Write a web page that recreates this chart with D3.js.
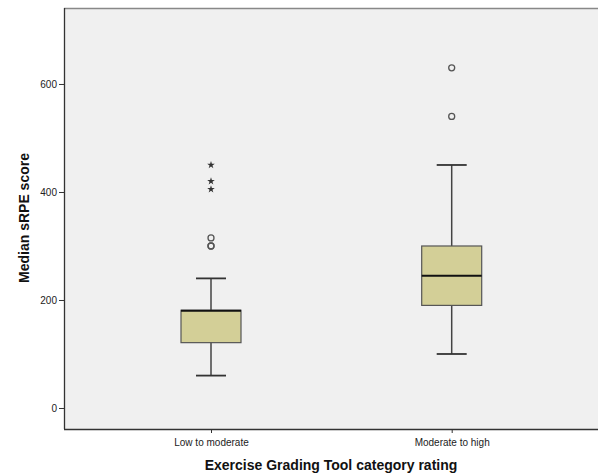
<!DOCTYPE html>
<html><head><meta charset="utf-8">
<script src="https://cdn.jsdelivr.net/npm/d3@7"></script>
<style>body{margin:0;background:#fff}svg{display:block}</style>
</head><body><svg id="c" width="598" height="475"></svg>
<script>
const categories = ["Low to moderate", "Moderate to high"];
const q1 = [121, 190];
const median = [180, 245];
const q3 = [181, 300];
const whiskerLow = [60, 100];
const whiskerHigh = [240, 450];
const outliers = [[300, 300, 315], [540, 630]];
const extremes = [[405, 420, 450], []];
const yTicks = [0, 200, 400, 600];

const svg = d3.select("#c");
const pL = 64, pR = 598, pT = 8, pB = 429;
const y = d3.scaleLinear().domain([-38.9, 740.7]).range([pB, pT]);
const x = d3.scalePoint().domain(categories).range([211, 451.7]);
const font = "Arial, Liberation Sans, sans-serif";

svg.append("rect").attr("x", pL).attr("y", pT).attr("width", pR - pL).attr("height", pB - pT)
  .attr("fill", "#f0f0f0");
svg.append("line").attr("x1", pL).attr("x2", pR).attr("y1", pT + 0.5).attr("y2", pT + 0.5).attr("stroke", "#888").attr("stroke-width", 1.5);

const yAxis = svg.append("g").attr("transform", `translate(${pL},0)`)
  .call(d3.axisLeft(y).tickValues(yTicks).tickSize(5).tickPadding(2));
yAxis.select(".domain").attr("d", `M0.5,${pT}V${pB}`).attr("stroke", "#333").attr("stroke-width", 1.3);
yAxis.selectAll("text").attr("font-family", font).attr("font-size", 10).attr("fill", "#222");
yAxis.selectAll(".tick line").attr("stroke", "#333");

const xAxis = svg.append("g").attr("transform", `translate(0,${pB})`)
  .call(d3.axisBottom(x).tickSize(4).tickPadding(6));
xAxis.select(".domain").attr("d", `M${pL},0.5H${pR}`).attr("stroke", "#333").attr("stroke-width", 1.5);
xAxis.selectAll("text").attr("font-family", font).attr("font-size", 10).attr("fill", "#222");
xAxis.selectAll(".tick line").attr("stroke", "#333");

const bw = 60, cw = 30;
categories.forEach((c, i) => {
  const cx = x(c);
  const g = svg.append("g");
  g.append("line").attr("x1", cx).attr("x2", cx).attr("y1", y(whiskerLow[i])).attr("y2", y(whiskerHigh[i]))
    .attr("stroke", "#444").attr("stroke-width", 1.5);
  [whiskerLow[i], whiskerHigh[i]].forEach(v => {
    g.append("line").attr("x1", cx - cw / 2).attr("x2", cx + cw / 2).attr("y1", y(v)).attr("y2", y(v))
      .attr("stroke", "#333").attr("stroke-width", 1.8);
  });
  g.append("rect").attr("x", cx - bw / 2).attr("y", y(q3[i])).attr("width", bw).attr("height", y(q1[i]) - y(q3[i]))
    .attr("fill", "#d3cf97").attr("stroke", "#555").attr("stroke-width", 1.2);
  g.append("line").attr("x1", cx - bw / 2).attr("x2", cx + bw / 2).attr("y1", y(median[i])).attr("y2", y(median[i]))
    .attr("stroke", "#111").attr("stroke-width", 2);
  outliers[i].forEach(v => {
    g.append("circle").attr("cx", cx).attr("cy", y(v)).attr("r", 3)
      .attr("fill", "none").attr("stroke", "#555").attr("stroke-width", 1.3);
  });
  extremes[i].forEach(v => {
    g.append("path").attr("transform", `translate(${cx},${y(v)})`)
      .attr("d", d3.symbol().type(d3.symbolStar).size(18)())
      .attr("fill", "#333");
  });
});

svg.append("text").attr("x", 331).attr("y", 470).attr("text-anchor", "middle")
  .attr("font-family", font).attr("font-size", 14).attr("font-weight", "bold").attr("fill", "#111")
  .text("Exercise Grading Tool category rating");
svg.append("text").attr("transform", `translate(29,218) rotate(-90)`).attr("text-anchor", "middle")
  .attr("font-family", font).attr("font-size", 14).attr("font-weight", "bold").attr("fill", "#111")
  .text("Median sRPE score");
</script></body></html>
